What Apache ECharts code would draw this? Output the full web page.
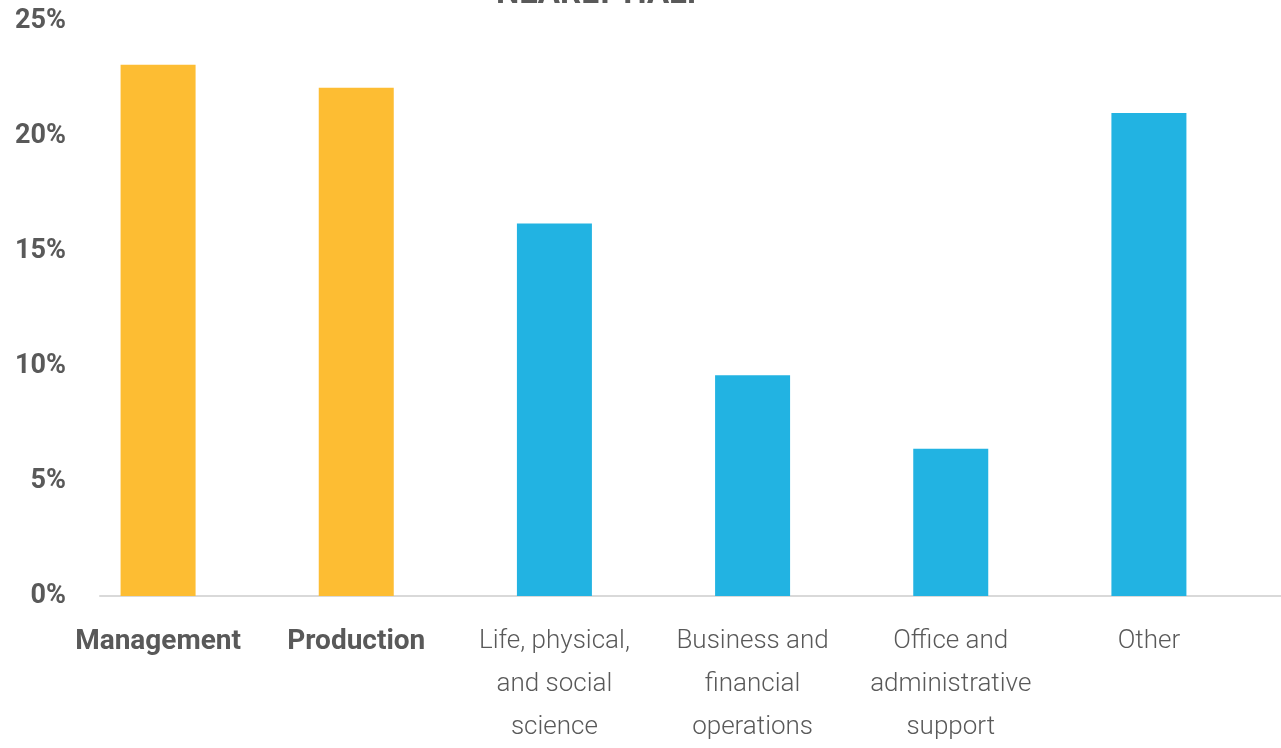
<!DOCTYPE html>
<html>
<head>
<meta charset="utf-8">
<script src="https://cdn.jsdelivr.net/npm/echarts@6/dist/echarts.min.js"></script>
<style>
  html, body { margin: 0; padding: 0; background: #ffffff; }
  #chart { width: 1281px; height: 748px; }
</style>
</head>
<body>
<div id="chart"></div>
<script>
// Occupations and their share (%)
const categories = [
  'Management',
  'Production',
  'Life, physical,\nand social\nscience',
  'Business and\nfinancial\noperations',
  'Office and\nadministrative\nsupport',
  'Other'
];
const shares = [23.1, 22.1, 16.2, 9.6, 6.4, 21.0];
const highlighted = [true, true, false, false, false, false];
const yTicks = [0, 5, 10, 15, 20, 25];

const FONT = "Roboto, 'Noto Sans', sans-serif";
const TEXT = '#595959';
const GOLD = '#FDBD33';
const BLUE = '#22B3E2';

const chart = echarts.init(document.getElementById('chart'));

chart.setOption({
  backgroundColor: '#ffffff',
  animation: false,
  title: {
    text: 'NEARLY HALF',
    left: 496,
    top: -22,
    padding: 0,
    textStyle: {
      fontFamily: FONT,
      fontSize: 33,
      fontWeight: 'bold',
      color: TEXT
    }
  },
  grid: [
    { left: 59, right: 33, top: 21, bottom: 152 },
    { left: 100, right: 0, top: 21, bottom: 152 }
  ],
  xAxis: [
    {
      type: 'category',
      gridIndex: 0,
      data: categories,
      axisLine: { show: false },
      axisTick: { show: false },
      axisLabel: {
        interval: 0,
        margin: 24,
        formatter: function (value, idx) {
          const tag = highlighted[idx] ? 'b' : 'n';
          return value.split('\n').map(l => '{' + tag + '|' + l + '}').join('\n');
        },
        rich: {
          b: { fontFamily: FONT, fontSize: 28, fontWeight: 'bold', color: TEXT, lineHeight: 43, align: 'center' },
          n: { fontFamily: FONT, fontSize: 26, fontWeight: 300, color: TEXT, lineHeight: 43, align: 'center' }
        }
      }
    },
    {
      type: 'value',
      gridIndex: 1,
      min: 0,
      max: 1,
      axisLine: { show: true, onZero: false, lineStyle: { color: '#d9d9d9', width: 2 } },
      axisTick: { show: false },
      axisLabel: { show: false },
      splitLine: { show: false }
    }
  ],
  yAxis: [
    {
      type: 'value',
      gridIndex: 0,
      min: yTicks[0],
      max: yTicks[yTicks.length - 1],
      interval: 5,
      axisLine: { show: false },
      axisTick: { show: false },
      axisLabel: { show: false },
      splitLine: { show: false }
    },
    {
      type: 'value',
      gridIndex: 1,
      min: yTicks[0],
      max: yTicks[yTicks.length - 1],
      interval: 5,
      axisLine: { show: false },
      axisTick: { show: false },
      splitLine: { show: false },
      axisLabel: {
        margin: 34,
        formatter: '{value}%',
        fontFamily: FONT,
        fontSize: 27,
        fontWeight: 'bold',
        color: TEXT
      }
    }
  ],
  series: [{
    type: 'bar',
    xAxisIndex: 0,
    yAxisIndex: 0,
    barWidth: 75,
    data: shares.map((v, i) => ({
      value: v,
      itemStyle: { color: highlighted[i] ? GOLD : BLUE }
    }))
  }]
});
</script>
</body>
</html>
